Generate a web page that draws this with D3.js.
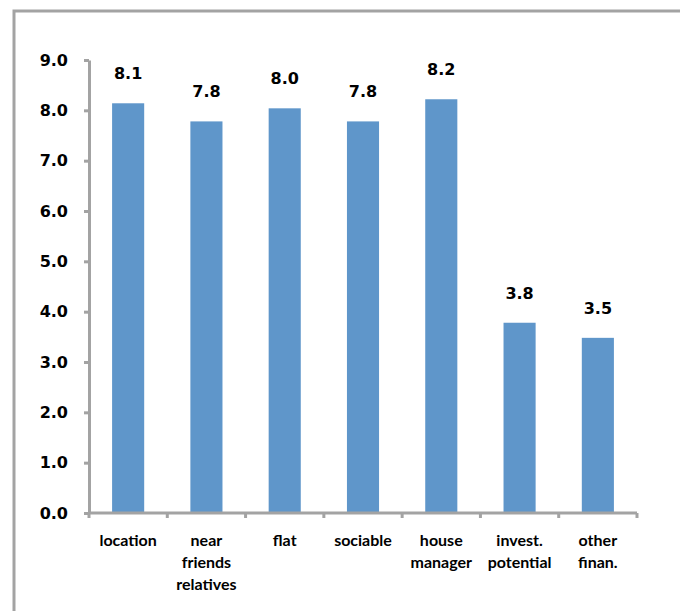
<!DOCTYPE html>
<html>
<head>
<meta charset="utf-8">
<script src="https://cdn.jsdelivr.net/npm/d3@7"></script>
<style>
  body { margin: 0; background: #fff; }
  svg { display: block; }
</style>
</head>
<body>
<div id="bar-chart"></div>
<script>
// Chart data
const categories = ['location', 'near friends relatives', 'flat', 'sociable', 'house manager', 'invest. potential', 'other finan.'];
const categoryLines = [['location'], ['near', 'friends', 'relatives'], ['flat'], ['sociable'], ['house', 'manager'], ['invest.', 'potential'], ['other', 'finan.']];
const values = [8.14, 7.78, 8.04, 7.78, 8.22, 3.78, 3.48];
const yTicks = [0, 1, 2, 3, 4, 5, 6, 7, 8, 9];

const width = 680, height = 611;
const margin = {top: 60, right: 43, bottom: 98, left: 89};

const svg = d3.select('#bar-chart')
    .append('svg')
    .attr('width', width)
    .attr('height', height);

// Outer frame (runs past the right and bottom edges)
svg.append('rect')
    .attr('x', 14)
    .attr('y', 11)
    .attr('width', 720)
    .attr('height', 720)
    .attr('fill', 'none')
    .attr('stroke', '#a3a3a3')
    .attr('stroke-width', 3);

const g = svg.append('g')
    .attr('transform', `translate(${margin.left}, ${margin.top})`);

const innerW = width - margin.left - margin.right,
    innerH = height - margin.top - margin.bottom;

const xScale = d3.scaleBand()
    .domain(categories)
    .range([0, innerW])
    .padding(0);

const yScale = d3.scaleLinear()
    .domain([0, 9])
    .range([innerH, 0]);

const barW = xScale.bandwidth() * 0.41;

// Bars
g.selectAll('.bar')
    .data(values)
    .enter()
    .append('rect')
    .attr('x', (d, i) => xScale(categories[i]) + (xScale.bandwidth() - barW) / 2)
    .attr('y', d => yScale(d))
    .attr('width', barW)
    .attr('height', d => innerH - yScale(d))
    .attr('fill', '#5f96ca');

// Value labels
g.selectAll('.val')
    .data(values)
    .enter()
    .append('text')
    .attr('x', (d, i) => xScale(categories[i]) + xScale.bandwidth() / 2)
    .attr('y', d => yScale(d) - 24)
    .attr('text-anchor', 'middle')
    .style('font-family', '"DejaVu Sans", sans-serif')
    .style('font-weight', 'bold')
    .style('font-size', '16px')
    .attr('fill', '#000')
    .text(d => d.toFixed(1));

// Y axis
const yAxis = g.append('g')
    .call(d3.axisLeft(yScale)
        .tickValues(yTicks)
        .tickFormat(d3.format('.1f'))
        .tickSize(5)
        .tickSizeOuter(0)
        .tickPadding(16));

yAxis.select('.domain').attr('stroke', '#a3a3a3').attr('stroke-width', 3);
yAxis.selectAll('.tick line').attr('stroke', '#a3a3a3').attr('stroke-width', 3);
yAxis.selectAll('.tick text')
    .style('font-family', '"DejaVu Sans", sans-serif')
    .style('font-weight', 'bold')
    .style('font-size', '16px')
    .attr('fill', '#000');

// X axis: line plus ticks at band boundaries
const xAxis = g.append('g').attr('transform', `translate(0, ${innerH})`);
xAxis.append('line')
    .attr('x1', 0)
    .attr('x2', innerW)
    .attr('stroke', '#a3a3a3')
    .attr('stroke-width', 3);

const bounds = categories.map(c => xScale(c)).concat([innerW]);
xAxis.selectAll('.xtick')
    .data(bounds)
    .enter()
    .append('line')
    .attr('x1', d => d)
    .attr('x2', d => d)
    .attr('y1', 0)
    .attr('y2', 5)
    .attr('stroke', '#a3a3a3')
    .attr('stroke-width', 3);

// Category labels (multi-line)
const catText = xAxis.selectAll('.cat')
    .data(categoryLines)
    .enter()
    .append('text')
    .attr('text-anchor', 'middle')
    .attr('x', (d, i) => xScale(categories[i]) + xScale.bandwidth() / 2)
    .attr('y', 33)
    .style('font-family', 'Lato, sans-serif')
    .style('font-weight', 'bold')
    .style('font-size', '16px')
    .attr('fill', '#000');

catText.each(function(lines, i) {
    const t = d3.select(this);
    lines.forEach((line, j) => {
        t.append('tspan')
            .attr('x', xScale(categories[i]) + xScale.bandwidth() / 2)
            .attr('dy', j === 0 ? 0 : 22)
            .text(line);
    });
});
</script>
</body>
</html>
